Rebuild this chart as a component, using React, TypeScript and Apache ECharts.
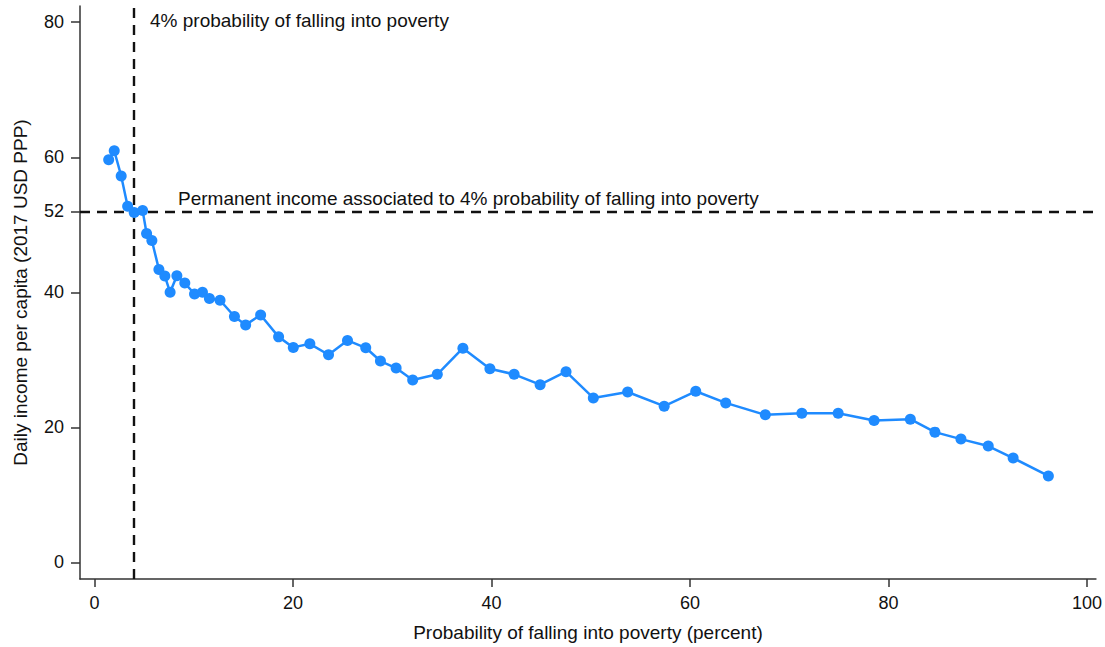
import React, { useEffect, useRef } from "react";
import * as echarts from "echarts";

const probability = [
  1.43, 1.99, 2.69, 3.34, 4.0, 4.85, 5.25, 5.78, 6.49, 7.09,
  7.62, 8.3, 9.1, 10.08, 10.88, 11.58, 12.65, 14.1, 15.23, 16.74,
  18.55, 20.03, 21.7, 23.58, 25.49, 27.33, 28.81, 30.39, 32.06, 34.54,
  37.12, 39.84, 42.28, 44.9, 47.51, 50.26, 53.72, 57.4, 60.58, 63.6,
  67.59, 71.27, 74.93, 78.55, 82.2, 84.68, 87.3, 90.05, 92.56, 96.11,
];
const income = [
  59.63, 60.96, 57.23, 52.74, 51.81, 52.1, 48.71, 47.68, 43.39, 42.41,
  40.0, 42.46, 41.37, 39.75, 40.0, 39.07, 38.82, 36.41, 35.17, 36.65,
  33.4, 31.84, 32.37, 30.75, 32.87, 31.78, 29.82, 28.78, 27.01, 27.85,
  31.73, 28.68, 27.85, 26.32, 28.24, 24.35, 25.24, 23.13, 25.34, 23.62,
  21.85, 22.1, 22.1, 21.0, 21.21, 19.29, 18.26, 17.23, 15.45, 12.8,
];
const xTicks = [0, 20, 40, 60, 80, 100];
const yTicks = [0, 20, 40, 52, 60, 80];
const thresholdProb = 4;
const thresholdIncome = 52;
const vLabel = "4% probability of falling into poverty";
const hLabel = "Permanent income associated to 4% probability of falling into poverty";

const FONT = "Liberation Sans, Arial, sans-serif";

export default function App() {
  const ref = useRef<HTMLDivElement>(null);
  useEffect(() => {
    if (!ref.current) return;
    const chart = echarts.init(ref.current, null, { renderer: "svg" });
    const data = probability.map((p, i) => [p, income[i]]);
    chart.setOption({
      animation: false,
      textStyle: { fontFamily: FONT },
      grid: { left: 80, right: 7, top: 6, bottom: 66 },
      xAxis: {
        type: "value",
        min: -1.46,
        max: 100.9,
        name: "Probability of falling into poverty (percent)",
        nameLocation: "middle",
        nameGap: 44,
        nameMoveOverlap: false,
        nameTextStyle: { fontSize: 19, color: "#111", fontFamily: FONT },
        axisLine: { show: true, onZero: false, lineStyle: { color: "#333", width: 1.5 } },
        axisTick: { show: true, length: 8, customValues: xTicks, lineStyle: { color: "#333", width: 1.5 } },
        axisLabel: { customValues: xTicks, fontSize: 18, color: "#111", margin: 15, fontFamily: FONT },
        splitLine: { show: false },
      },
      yAxis: {
        type: "value",
        min: -2.46,
        max: 82.4,
        name: "Daily income per capita (2017 USD PPP)",
        nameLocation: "middle",
        nameGap: 50,
        nameMoveOverlap: false,
        nameTextStyle: { fontSize: 19, color: "#111", fontFamily: FONT },
        axisLine: { show: true, onZero: false, lineStyle: { color: "#333", width: 1.5 } },
        axisTick: { show: true, length: 9, customValues: yTicks, lineStyle: { color: "#333", width: 1.5 } },
        axisLabel: { customValues: yTicks, fontSize: 18, color: "#111", margin: 16, fontFamily: FONT },
        splitLine: { show: false },
      },
      series: [
        {
          type: "line",
          data,
          symbol: "circle",
          symbolSize: 11,
          itemStyle: { color: "#1f8bff" },
          lineStyle: { color: "#1f8bff", width: 2.5 },
          z: 3,
          markLine: {
            silent: true,
            symbol: ["none", "none"],
            label: { show: false },
            lineStyle: { color: "#111", width: 2.4, type: [10, 7] },
            data: [{ xAxis: thresholdProb }, { yAxis: thresholdIncome }],
            z: 2,
          },
        },
      ],
      graphic: [
        {
          type: "text",
          left: 150,
          top: 11,
          style: { text: vLabel, fontSize: 19, fill: "#111", fontFamily: FONT },
        },
        {
          type: "text",
          left: 178,
          top: 189,
          style: { text: hLabel, fontSize: 19, fill: "#111", fontFamily: FONT },
        },
      ],
    });
    return () => chart.dispose();
  }, []);
  return <div ref={ref} style={{ width: 1105, height: 647, position: "absolute", left: 0, top: 0 }} />;
}
